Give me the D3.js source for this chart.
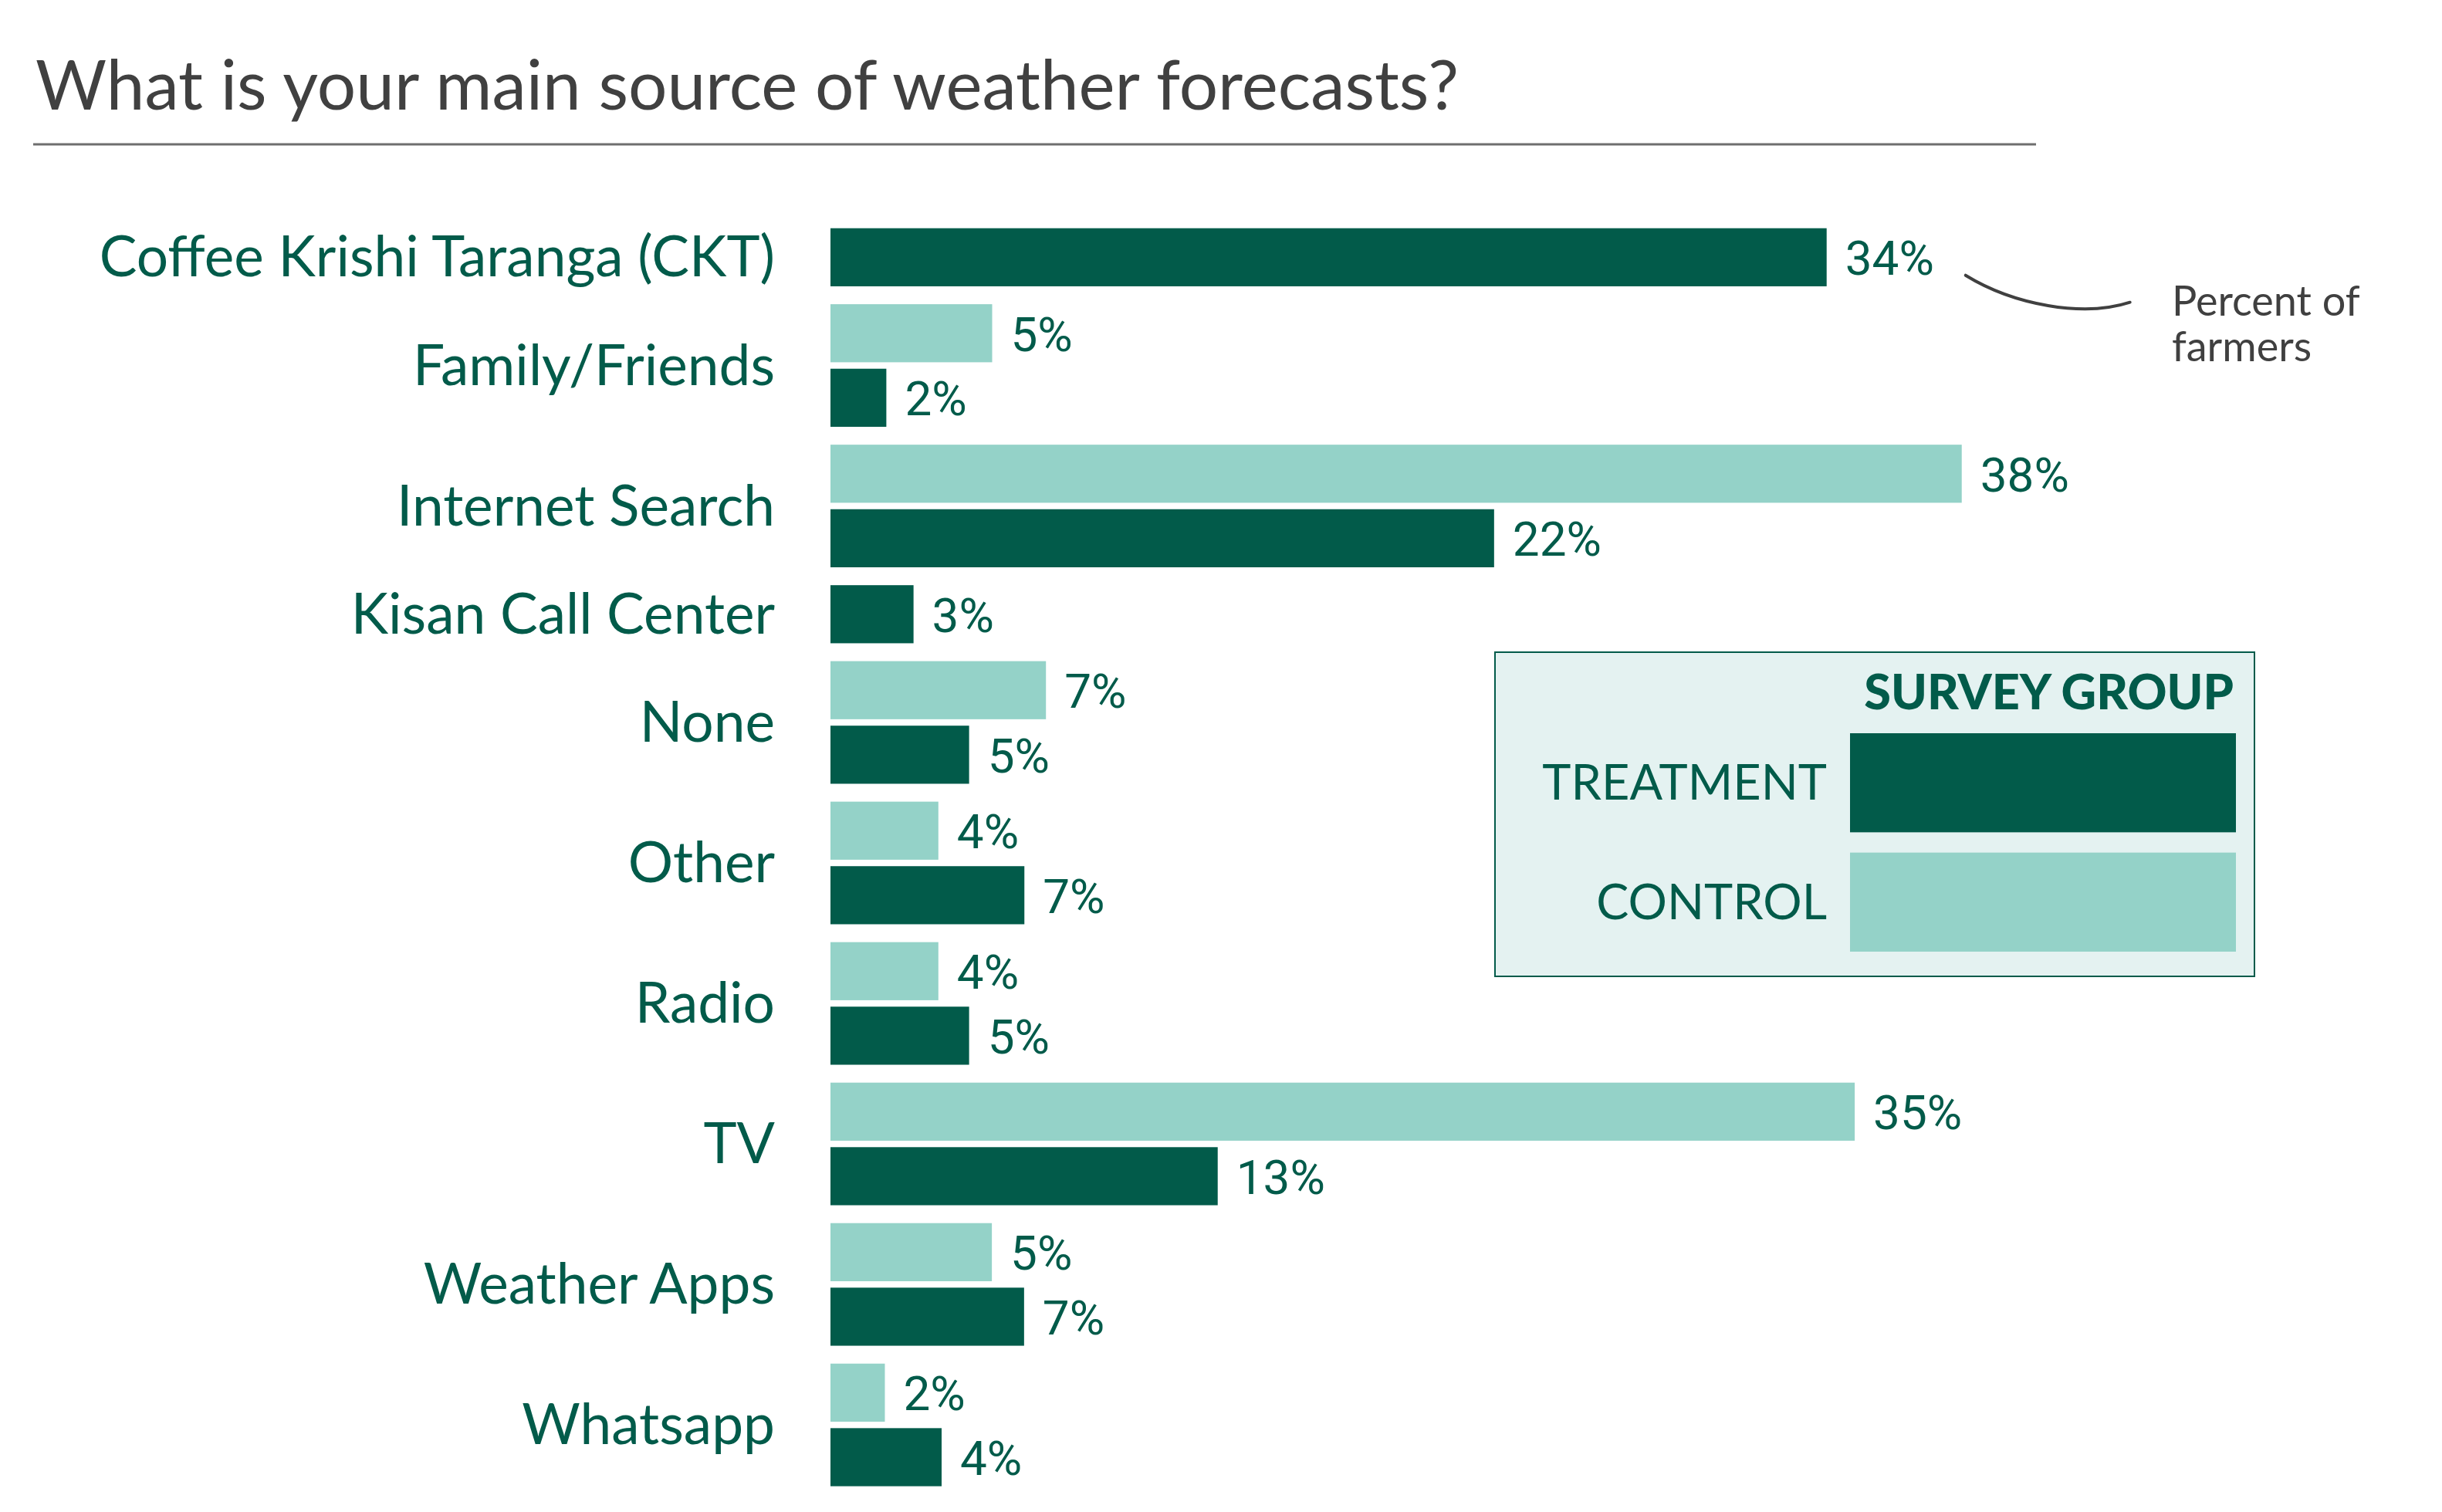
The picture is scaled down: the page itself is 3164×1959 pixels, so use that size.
<!DOCTYPE html>
<html>
<head>
<meta charset="utf-8">
<script src="https://cdn.jsdelivr.net/npm/d3@7"></script>
<style>
  body { margin: 0; background: #fff; }
  #chart { width: 3164px; height: 1959px; }
</style>
</head>
<body>
<div id="chart"></div>
<script>
// data (percent of farmers)
const categories = ['Coffee Krishi Taranga (CKT)', 'Family/Friends', 'Internet Search', 'Kisan Call Center',
    'None', 'Other', 'Radio', 'TV', 'Weather Apps', 'Whatsapp'];
const controlValues = [null, 5.47, 38.27, null, 7.29, 3.65, 3.65, 34.65, 5.46, 1.84];
const treatmentValues = [33.7, 1.89, 22.45, 2.81, 4.69, 6.56, 4.69, 13.1, 6.55, 3.76];
const groupNames = ['CONTROL', 'TREATMENT'];
const legendOrder = ['TREATMENT', 'CONTROL'];

const title = 'What is your main source of weather forecasts?';
const noteLines = ['Percent of', 'farmers'];

const dark = '#025b4a';
const light = '#94d2c8';
const colour = d3.scaleOrdinal().domain(groupNames).range([light, dark]);

const width = 3164, height = 1959;
const svg = d3.select('#chart').append('svg')
    .attr('width', width)
    .attr('height', height)
    .attr('viewBox', [0, 0, width, height]);

// title and rule
svg.append('text')
    .attr('x', 46).attr('y', 142)
    .attr('font-family', 'Lato')
    .attr('font-size', 89)
    .attr('fill', '#404040')
    .text(title);
svg.append('line')
    .attr('x1', 43).attr('x2', 2638)
    .attr('y1', 187).attr('y2', 187)
    .attr('stroke', '#6e6e6e')
    .attr('stroke-width', 3);

// flatten into rows; a bar is 1 unit, gaps in the same units
const innerGap = 0.111, groupGap = 0.308;
let rows = [], cats = [], pos = 0;
categories.forEach((c, i) => {
    if (i > 0) pos += groupGap;
    const start = pos;
    const vals = [controlValues[i], treatmentValues[i]];
    let n = 0;
    vals.forEach((v, j) => {
        if (v == null) return;
        if (n > 0) pos += innerGap;
        rows.push({cat: c, group: groupNames[j], value: v, u: pos});
        pos += 1;
        n++;
    });
    cats.push({cat: c, mid: (start + pos) / 2});
});

const y = d3.scaleLinear().domain([0, pos]).range([295.7, 1925.6]);
const barH = y(1) - y(0);
const x = d3.scaleLinear().domain([0, 40]).range([1076, 1076 + 40 * 38.3]);

const bars = svg.append('g').attr('id', 'bars');
bars.selectAll('rect')
    .data(rows)
    .join('rect')
    .attr('x', x(0))
    .attr('y', d => y(d.u))
    .attr('width', d => x(d.value) - x(0))
    .attr('height', barH)
    .attr('fill', d => colour(d.group));

bars.selectAll('text')
    .data(rows)
    .join('text')
    .attr('x', d => x(d.value) + 24)
    .attr('y', d => y(d.u) + barH / 2 + 23)
    .attr('font-family', 'Roboto')
    .attr('font-size', 62)
    .attr('fill', dark)
    .text(d => Math.round(d.value) + '%');

svg.append('g').attr('id', 'labels')
    .selectAll('text')
    .data(cats)
    .join('text')
    .attr('x', 1004)
    .attr('y', d => y(d.mid) + 25)
    .attr('text-anchor', 'end')
    .attr('font-family', 'Lato')
    .attr('font-size', 73)
    .attr('fill', dark)
    .text(d => d.cat);

// annotation
const ax = x(treatmentValues[0]) + 180, ay = y(0) + 61;
svg.append('path')
    .attr('d', `M${ax},${ay} C${ax + 62},${ay + 38} ${ax + 152},${ay + 55} ${ax + 213},${ay + 35}`)
    .attr('fill', 'none')
    .attr('stroke', '#404040')
    .attr('stroke-width', 4)
    .attr('stroke-linecap', 'round');
svg.append('text')
    .attr('font-family', 'Lato')
    .attr('font-size', 54)
    .attr('fill', '#404040')
    .selectAll('tspan')
    .data(noteLines)
    .join('tspan')
    .attr('x', 2814)
    .attr('y', (d, i) => 409 + i * 59)
    .text(d => d);

// legend
const lg = svg.append('g').attr('id', 'legend');
lg.append('rect')
    .attr('x', 1937).attr('y', 845)
    .attr('width', 984).attr('height', 420)
    .attr('fill', '#e4f2f1')
    .attr('stroke', dark)
    .attr('stroke-width', 2);
lg.append('text')
    .attr('x', 2894).attr('y', 919)
    .attr('text-anchor', 'end')
    .attr('font-family', 'Lato')
    .attr('font-weight', 900)
    .attr('font-size', 63)
    .attr('fill', dark)
    .text('SURVEY GROUP');
const ly = d3.scaleBand().domain(legendOrder).range([950, 1233]).paddingInner(0.17);
lg.selectAll('rect.sw')
    .data(legendOrder)
    .join('rect')
    .attr('class', 'sw')
    .attr('x', 2397).attr('y', d => ly(d))
    .attr('width', 500).attr('height', ly.bandwidth())
    .attr('fill', d => colour(d));
lg.selectAll('text.lbl')
    .data(legendOrder)
    .join('text')
    .attr('class', 'lbl')
    .attr('x', 2367)
    .attr('y', d => ly(d) + ly.bandwidth() / 2 + 22)
    .attr('text-anchor', 'end')
    .attr('font-family', 'Lato')
    .attr('font-size', 63)
    .attr('fill', dark)
    .text(d => d);
</script>
</body>
</html>
